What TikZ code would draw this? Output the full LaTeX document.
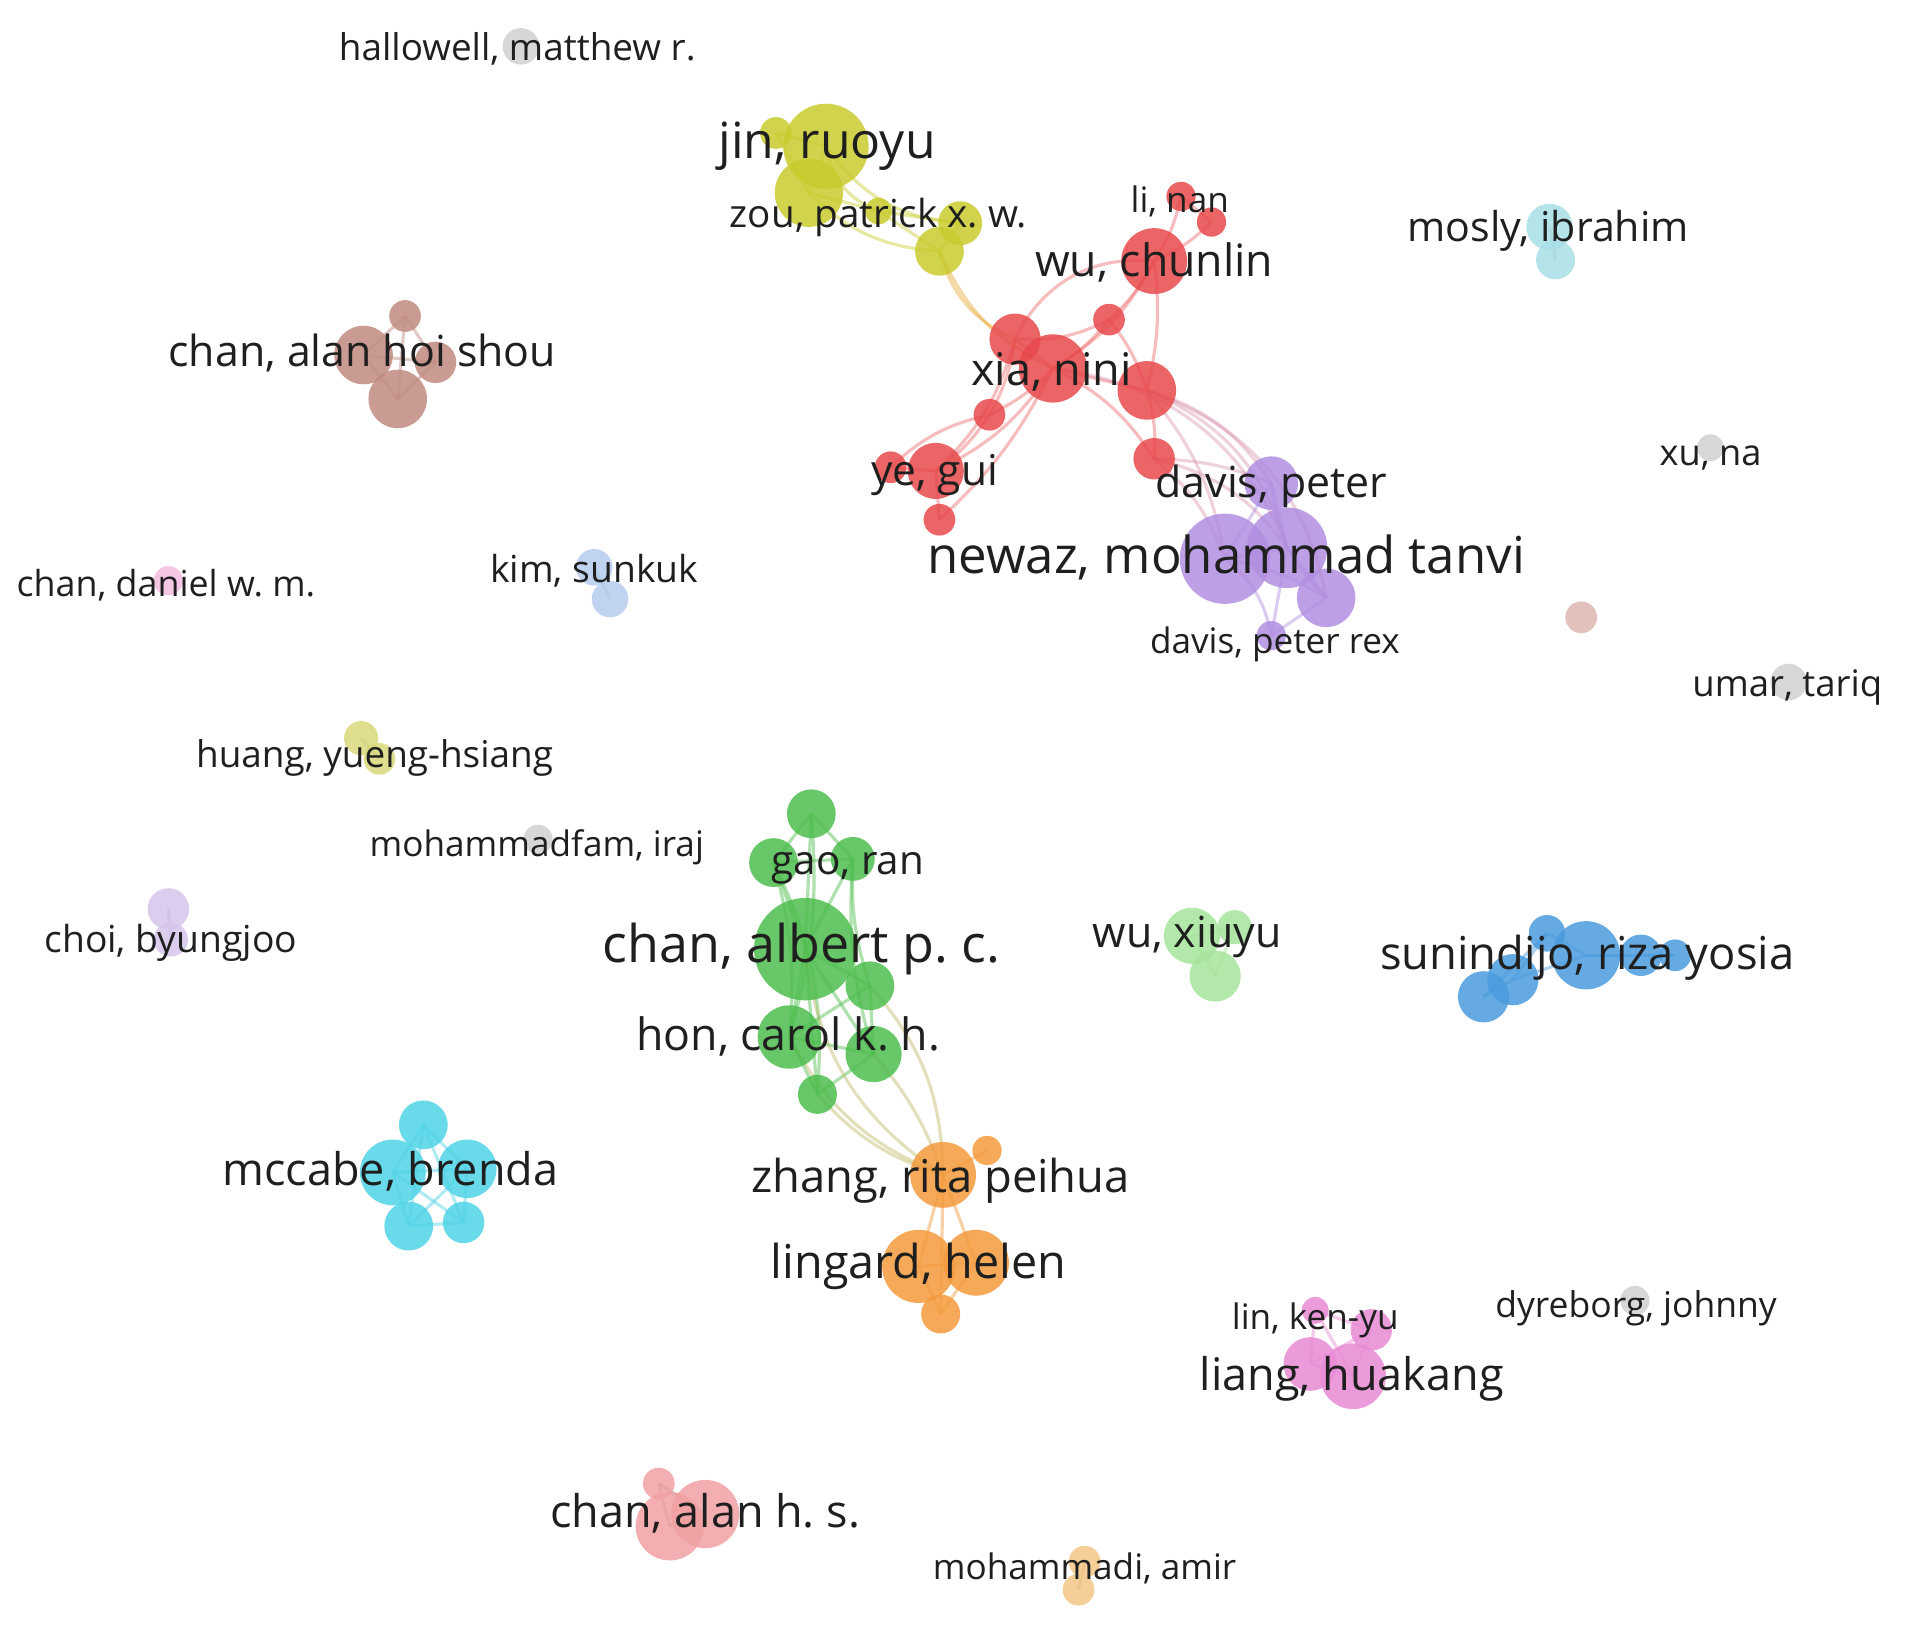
\documentclass[tikz,border=0pt]{standalone}
\usepackage{fontspec}
\setmainfont{Open Sans}
\usetikzlibrary{backgrounds}
\frenchspacing

\definecolor{cRed}{HTML}{E8494B}
\definecolor{cGreen}{HTML}{4DBD4D}
\definecolor{cBlue}{HTML}{4A9BDD}
\definecolor{cYellow}{HTML}{C9CB2E}
\definecolor{cPurple}{HTML}{B08EE0}
\definecolor{cCyan}{HTML}{4FD3E6}
\definecolor{cOrange}{HTML}{F39A3C}
\definecolor{cBrown}{HTML}{C08A80}
\definecolor{cPink}{HTML}{E88AD4}
\definecolor{cLGreen}{HTML}{A5E49A}
\definecolor{cLBlue}{HTML}{B5CDEE}
\definecolor{cLCyan}{HTML}{A8DEE6}
\definecolor{cGray}{HTML}{D0D0D0}
\definecolor{cSalmon}{HTML}{F0A0A2}
\definecolor{cLOrange}{HTML}{F5C585}
\definecolor{cLYellow}{HTML}{D8D87A}
\definecolor{cLPurple}{HTML}{D6C4EC}
\definecolor{cLPink}{HTML}{F5BDE0}
\definecolor{cPaleBrown}{HTML}{DDB5B0}

\tikzset{
  bub/.style={circle, fill=#1, fill opacity=.85, draw=none, inner sep=0pt},
  sz/.style={minimum size=#1*0.0244cm},
  lbl/.style={font=\fontsize{#1}{#1}\selectfont, text=black!88, inner sep=0pt, anchor=mid, yshift=-0.05cm},
  lnk/.style={draw=#1, line width=.9pt, draw opacity=.45},
}

\begin{document}
\begin{tikzpicture}[x=0.0122cm, y=-0.0122cm]
\useasboundingbox (0,0) rectangle (1568,1334);

% single authors
\node[bub=cGray, sz=15] (hal) at (427,38) {};
\node[bub=cGray, sz=11] (xuna) at (1402,367) {};
\node[bub=cGray, sz=15] (umar) at (1466,559) {};
\node[bub=cGray, sz=12] (dyre) at (1340,1066) {};
\node[bub=cGray, sz=12] (mfam) at (441,688) {};
\node[bub=cPaleBrown, sz=13] (pb) at (1296,506) {};
\node[bub=cLPink, sz=12] (dan) at (138,476) {};

% small groups
\node[bub=cLPurple, sz=17] (choi1) at (138,745) {};
\node[bub=cLPurple, sz=14] (choi2) at (140,770) {};
\node[bub=cLYellow, sz=14] (hu1) at (296,605) {};
\node[bub=cLYellow, sz=13] (hu2) at (311,622) {};
\node[bub=cLBlue, sz=15] (kim1) at (487,465) {};
\node[bub=cLBlue, sz=15] (kim2) at (500,491) {};
\node[bub=cLCyan, sz=19] (mos1) at (1270,186) {};
\node[bub=cLCyan, sz=16] (mos2) at (1275,213) {};
\node[bub=cLOrange, sz=13] (mdi1) at (889,1280) {};
\node[bub=cLOrange, sz=13] (mdi2) at (884,1303) {};
\node[bub=cSalmon, sz=13] (ahs1) at (540,1216) {};
\node[bub=cSalmon, sz=28] (ahs2) at (578,1241) {};
\node[bub=cSalmon, sz=28] (ahs3) at (549,1251) {};
\node[bub=cPink, sz=11] (lia1) at (1078,1074) {};
\node[bub=cPink, sz=17] (lia2) at (1124,1090) {};
\node[bub=cPink, sz=22] (lia3) at (1074,1118) {};
\node[bub=cPink, sz=27] (lia4) at (1109,1128) {};

% red cluster
\node[bub=cRed, sz=12] (r1) at (968,161) {};
\node[bub=cRed, sz=12] (r2) at (993,182) {};
\node[bub=cRed, sz=27] (r3) at (946,214) {};
\node[bub=cRed, sz=13] (r4) at (909,262) {};
\node[bub=cRed, sz=21] (r5) at (832,278) {};
\node[bub=cRed, sz=28] (r6) at (863,302) {};
\node[bub=cRed, sz=24] (r7) at (940,320) {};
\node[bub=cRed, sz=13] (r8) at (811,340) {};
\node[bub=cRed, sz=17] (r9) at (946,376) {};
\node[bub=cRed, sz=23] (r10) at (767,386) {};
\node[bub=cRed, sz=13] (r11) at (730,383) {};
\node[bub=cRed, sz=13] (r12) at (770,426) {};

% purple cluster
\node[bub=cPurple, sz=22] (p1) at (1042,396) {};
\node[bub=cPurple, sz=37] (p2) at (1004,458) {};
\node[bub=cPurple, sz=33] (p3) at (1055,449) {};
\node[bub=cPurple, sz=24] (p4) at (1087,490) {};
\node[bub=cPurple, sz=12] (p5) at (1042,521) {};

% yellow cluster
\node[bub=cYellow, sz=13] (y1) at (636,109) {};
\node[bub=cYellow, sz=35] (y2) at (677,120) {};
\node[bub=cYellow, sz=28] (y3) at (663,158) {};
\node[bub=cYellow, sz=11] (y4) at (720,173) {};
\node[bub=cYellow, sz=18] (y5) at (787,183) {};
\node[bub=cYellow, sz=20] (y6) at (770,206) {};

% brown cluster
\node[bub=cBrown, sz=13] (b1) at (332,259) {};
\node[bub=cBrown, sz=24] (b2) at (298,291) {};
\node[bub=cBrown, sz=17] (b3) at (357,297) {};
\node[bub=cBrown, sz=24] (b4) at (326,327) {};

% green cluster
\node[bub=cGreen, sz=20] (g1) at (665,667) {};
\node[bub=cGreen, sz=20] (g2) at (634,707) {};
\node[bub=cGreen, sz=18] (g3) at (699,704) {};
\node[bub=cGreen, sz=42] (g4) at (660,778) {};
\node[bub=cGreen, sz=20] (g5) at (713,808) {};
\node[bub=cGreen, sz=26] (g6) at (647,850) {};
\node[bub=cGreen, sz=23] (g7) at (716,864) {};
\node[bub=cGreen, sz=16] (g8) at (670,897) {};

% orange cluster
\node[bub=cOrange, sz=12] (o1) at (809,943) {};
\node[bub=cOrange, sz=27] (o2) at (773,963) {};
\node[bub=cOrange, sz=30] (o3) at (753,1038) {};
\node[bub=cOrange, sz=27] (o4) at (800,1035) {};
\node[bub=cOrange, sz=16] (o5) at (771,1077) {};

% light green
\node[bub=cLGreen, sz=23] (lg1) at (977,767) {};
\node[bub=cLGreen, sz=14] (lg2) at (1012,760) {};
\node[bub=cLGreen, sz=21] (lg3) at (996,800) {};

% blue cluster
\node[bub=cBlue, sz=15] (bl1) at (1268,765) {};
\node[bub=cBlue, sz=28] (bl2) at (1300,783) {};
\node[bub=cBlue, sz=17] (bl3) at (1345,783) {};
\node[bub=cBlue, sz=13] (bl4) at (1373,783) {};
\node[bub=cBlue, sz=21] (bl5) at (1240,803) {};
\node[bub=cBlue, sz=21] (bl6) at (1216,817) {};

% cyan cluster
\node[bub=cCyan, sz=20] (c1) at (347,922) {};
\node[bub=cCyan, sz=27] (c2) at (322,961) {};
\node[bub=cCyan, sz=24] (c3) at (383,958) {};
\node[bub=cCyan, sz=20] (c4) at (335,1005) {};
\node[bub=cCyan, sz=17] (c5) at (380,1002) {};

% links
\begin{pgfonlayer}{background}
\foreach \a/\b/\c in {r1/r2/0, r1/r3/10, r2/r3/10, r3/r4/10, r3/r5/-35, r3/r7/10, r3/r6/15,
  r4/r6/10, r4/r7/10, r4/r5/15, r5/r6/0, r5/r8/10, r5/r10/15, r6/r7/0, r6/r8/10, r6/r10/15,
  r8/r10/10, r6/r9/15, r7/r9/10, r10/r11/0, r10/r12/0, r11/r8/15, r6/r12/10}
  \draw[lnk=cRed!80] (\a.center) to[bend left=\c] (\b.center);
\foreach \a/\b/\c in {y6/r5/25, y6/r6/20}
  \draw[lnk=cOrange!70!cYellow] (\a.center) to[bend right=\c] (\b.center);
\foreach \a/\b/\c in {r7/p1/20, r7/p2/15, r7/p3/25, r9/p2/15, r9/p3/20, r6/p3/30, r9/p1/10, r7/p4/30}
  \draw[lnk=cRed!50!cPurple!70] (\a.center) to[bend left=\c] (\b.center);
\foreach \a/\b/\c in {p1/p2/0, p1/p3/0, p2/p3/0, p2/p4/10, p3/p4/0, p4/p5/0, p2/p5/20, p3/p5/0, p1/p4/-20}
  \draw[lnk=cPurple] (\a.center) to[bend left=\c] (\b.center);
\foreach \a/\b/\c in {y1/y2/0, y2/y3/0, y1/y3/0, y2/y4/-30, y3/y4/0, y3/y6/-20, y4/y6/0, y5/y6/0, y4/y5/0, y2/y5/-25}
  \draw[lnk=cYellow] (\a.center) to[bend left=\c] (\b.center);
\foreach \a/\b in {b1/b2, b1/b3, b1/b4, b2/b3, b2/b4, b3/b4}
  \draw[lnk=cBrown] (\a.center) -- (\b.center);
\foreach \a/\b/\c in {g1/g2/0, g1/g3/0, g1/g4/0, g2/g3/0, g2/g4/0, g3/g4/0, g4/g5/0, g4/g6/0, g4/g7/0,
  g4/g8/0, g5/g6/0, g5/g7/0, g6/g7/0, g6/g8/0, g7/g8/0, g2/g6/10, g3/g5/-10, g3/g7/-10, g2/g8/15, g1/g6/10}
  \draw[lnk=cGreen] (\a.center) to[bend left=\c] (\b.center);
\foreach \a/\b/\c in {g6/o2/20, g8/o2/15, g7/o2/-10, g5/o2/-20, g4/o2/25}
  \draw[lnk=cGreen!40!cOrange!80] (\a.center) to[bend right=\c] (\b.center);
\foreach \a/\b in {o1/o2, o2/o3, o2/o4, o3/o4, o3/o5, o4/o5, o2/o5}
  \draw[lnk=cOrange] (\a.center) -- (\b.center);
\foreach \a/\b in {lg1/lg2, lg1/lg3, lg2/lg3}
  \draw[lnk=cLGreen] (\a.center) -- (\b.center);
\foreach \a/\b in {bl1/bl2, bl2/bl3, bl3/bl4, bl1/bl5, bl2/bl5, bl5/bl6, bl1/bl6, bl2/bl4}
  \draw[lnk=cBlue] (\a.center) -- (\b.center);
\foreach \a/\b in {c1/c2, c1/c3, c1/c4, c1/c5, c2/c3, c2/c4, c2/c5, c3/c4, c3/c5, c4/c5}
  \draw[lnk=cCyan] (\a.center) -- (\b.center);
\foreach \a/\b in {lia1/lia2, lia1/lia3, lia1/lia4, lia2/lia3, lia2/lia4, lia3/lia4}
  \draw[lnk=cPink] (\a.center) -- (\b.center);
\foreach \a/\b in {choi1/choi2, hu1/hu2, kim1/kim2, mos1/mos2, mdi1/mdi2, ahs1/ahs2, ahs1/ahs3, ahs2/ahs3}
  \draw[lnk=gray] (\a.center) -- (\b.center);
\end{pgfonlayer}

% labels
\node[lbl=10.5] (thal) at (424,38) {hallowell, matthew r.};
\node[lbl=10.3] (txuna) at (1402,370) {xu, na};
\node[lbl=10.4] (tumar) at (1465,559) {umar, tariq};
\node[lbl=10.1] (tdyre) at (1341,1068) {dyreborg, johnny};
\node[lbl=10] (tmfam) at (440,690) {mohammadfam, iraj};
\node[lbl=10.2] (tdan) at (136,477) {chan, daniel w. m.};
\node[lbl=10.6] (tchoi) at (140,769) {choi, byungjoo};
\node[lbl=10.5] (thu) at (307,617) {huang, yueng-hsiang};
\node[lbl=10.6] (tkim) at (487,466) {kim, sunkuk};
\node[lbl=11.7] (tmos) at (1269,186) {mosly, ibrahim};
\node[lbl=10] (tmdi) at (889,1283) {mohammadi, amir};
\node[lbl=12.8] (tahs) at (578,1240) {chan, alan h. s.};
\node[lbl=10] (tlin) at (1078,1078) {lin, ken-yu};
\node[lbl=12.8] (tlia) at (1108,1128) {liang, huakang};
\node[lbl=10] (tdpr) at (1045,524) {davis, peter rex};
\node[lbl=11] (tzou) at (720,175) {zou, patrick x. w.};
\node[lbl=10] (tli) at (967,162) {li, nan};
\node[lbl=12.8] (txia) at (862,304) {xia, nini};
\node[lbl=12.7] (twuc) at (946,215) {wu, chunlin};
\node[lbl=12.1] (tye) at (766,386) {ye, gui};
\node[lbl=12.2] (tdp) at (1042,396) {davis, peter};
\node[lbl=14.5] (tnew) at (1005,458) {newaz, mohammad tanvi};
\node[lbl=14.2] (tjin) at (678,118) {jin, ruoyu};
\node[lbl=12.2] (tahos) at (297,289) {chan, alan hoi shou};
\node[lbl=11.5] (tgao) at (695,705) {gao, ran};
\node[lbl=14.8] (talb) at (657,777) {chan, albert p. c.};
\node[lbl=12.7] (thon) at (646,849) {hon, carol k. h.};
\node[lbl=12.2] (twux) at (973,765) {wu, xiuyu};
\node[lbl=12.9] (tsun) at (1301,783) {sunindijo, riza yosia};
\node[lbl=12.8] (tmcc) at (320,960) {mccabe, brenda};
\node[lbl=12.9] (tzha) at (771,966) {zhang, rita peihua};
\node[lbl=13.3] (tlin2) at (753,1036) {lingard, helen};
\end{tikzpicture}
\end{document}
